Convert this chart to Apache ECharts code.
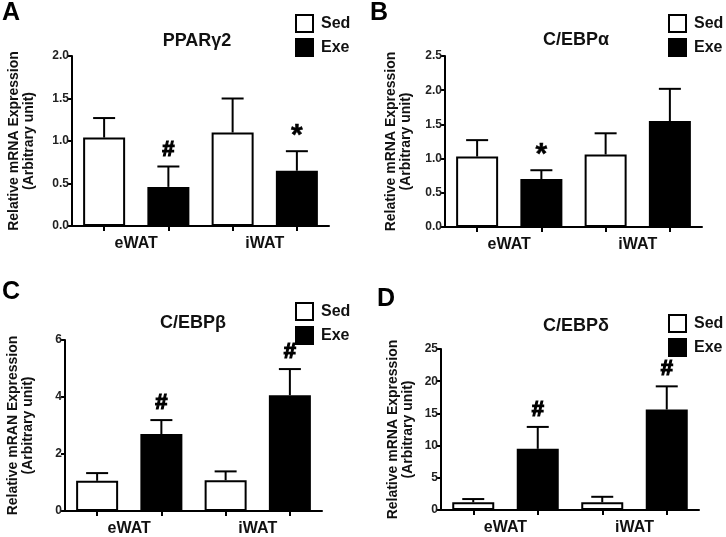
<!DOCTYPE html>
<html>
<head>
<meta charset="utf-8">
<script src="https://cdn.jsdelivr.net/npm/echarts@6/dist/echarts.min.js"></script>
<style>
html,body{margin:0;padding:0;background:#fff;}
#c{width:726px;height:537px;}
</style>
</head>
<body>
<div id="c"></div>
<script>
// ---- data ----
var categories = ['eWAT', 'iWAT'];
var seriesNames = ['Sed', 'Exe'];
var panelLetters = ['A', 'B', 'C', 'D'];
var panelTitles = ['PPARγ2', 'C/EBPα', 'C/EBPβ', 'C/EBPδ'];
var yNames = ['Relative mRNA Expression\n(Arbitrary unit)', 'Relative mRNA Expression\n(Arbitrary unit)',
              'Relative mRAN Expression\n(Arbitrary unit)', 'Relative mRNA Expression\n(Arbitrary unit)'];
var yMax = [2.0, 2.5, 6, 25];
var yInterval = [0.5, 0.5, 2, 5];
var yDecimals = [1, 1, 0, 0];

// means and SEM (eWAT, iWAT)
var sedA = [1.04, 1.10], sedSemA = [0.23, 0.40], exeA = [0.46, 0.65], exeSemA = [0.24, 0.23];
var sedB = [1.03, 1.06], sedSemB = [0.24, 0.31], exeB = [0.70, 1.55], exeSemB = [0.13, 0.47];
var sedC = [1.06, 1.08], sedSemC = [0.27, 0.31], exeC = [2.70, 4.06], exeSemC = [0.49, 0.92];
var sedD = [1.2, 1.2],   sedSemD = [0.5, 0.85],  exeD = [9.5, 15.6], exeSemD = [3.4, 3.6];
// significance markers above Exe bars
var markA = ['#', '*'], markB = ['*', ''], markC = ['#', '#'], markD = ['#', '#'];

var sedAll = [sedA, sedB, sedC, sedD], sedSemAll = [sedSemA, sedSemB, sedSemC, sedSemD];
var exeAll = [exeA, exeB, exeC, exeD], exeSemAll = [exeSemA, exeSemB, exeSemC, exeSemD];
var markAll = [markA, markB, markC, markD];

// ---- layout (styles / positions) ----
var FONT = '"Liberation Sans", Arial, Helvetica, sans-serif';
var grids = [
  {left: 72, top: 56, width: 257, height: 170},
  {left: 445, top: 56, width: 257, height: 171},
  {left: 65, top: 340, width: 257, height: 171},
  {left: 441, top: 349, width: 258, height: 161}
];
var nameGaps = [35, 31, 29, 25];
var titlePos = [[197, 32], [576, 31], [193, 314], [576, 317]];
var letterPos = [[2, 1], [370, 1], [2, 280], [377, 287]];
var legendPos = [[295, 14], [668, 14], [295, 302], [668, 314]];

var chart = echarts.init(document.getElementById('c'), null, {renderer: 'canvas'});

var option = {
  backgroundColor: '#fff',
  animation: false,
  textStyle: {fontFamily: FONT},
  title: [], legend: [], grid: [], xAxis: [], yAxis: [], series: []
};

for (var p = 0; p < 4; p++) {
  option.grid.push(grids[p]);
  option.title.push({
    text: panelTitles[p], left: titlePos[p][0], top: titlePos[p][1], textAlign: 'center', padding: 0,
    textStyle: {fontSize: 18, fontWeight: 'bold', color: '#111', fontFamily: FONT}
  });
  option.title.push({
    text: panelLetters[p], left: letterPos[p][0], top: letterPos[p][1], padding: 0,
    textStyle: {fontSize: 25, fontWeight: 'bold', color: '#000', fontFamily: FONT}
  });
  option.legend.push({
    data: seriesNames, orient: 'vertical', left: legendPos[p][0], top: legendPos[p][1], padding: 0,
    itemWidth: 17, itemHeight: 17, itemGap: 5, icon: 'rect', selectedMode: false,
    textStyle: {fontSize: 16, fontWeight: 'bold', color: '#111', fontFamily: FONT, padding: [0, 0, 0, 3]}
  });
  option.xAxis.push({
    gridIndex: p, type: 'value', min: 0.5, max: 4.5,
    splitLine: {show: false},
    axisLine: {show: true, onZero: false, lineStyle: {color: '#000', width: 2}},
    axisTick: {show: true, customValues: [1, 2, 3, 4], length: 5, lineStyle: {color: '#000', width: 2}},
    axisLabel: {
      show: true, customValues: [1.5, 3.5], margin: 10,
      fontSize: 16, fontWeight: 'bold', color: '#111', fontFamily: FONT,
      formatter: function (v) { return categories[Math.round((v - 1.5) / 2)]; }
    }
  });
  (function (dec) {
    option.yAxis.push({
      gridIndex: p, type: 'value', min: 0, max: yMax[p], interval: yInterval[p],
      name: yNames[p], nameLocation: 'middle', nameGap: nameGaps[p],
      nameTextStyle: {fontSize: 14, fontWeight: 'bold', color: '#111', lineHeight: 15, fontFamily: FONT},
      splitLine: {show: false},
      axisLine: {show: true, lineStyle: {color: '#000', width: 2}},
      axisTick: {show: true, length: 4, lineStyle: {color: '#000', width: 2}},
      axisLabel: {margin: 3, fontSize: 12, fontWeight: 'bold', color: '#222', fontFamily: FONT,
        formatter: function (v) { return v.toFixed(dec); }}
    });
  })(yDecimals[p]);

  var sed = sedAll[p], exe = exeAll[p];
  var sedData = [], exeData = [], errData = [];
  for (var g = 0; g < categories.length; g++) {
    sedData.push([1 + 2 * g, sed[g]]);
    exeData.push([2 + 2 * g, exe[g]]);
    errData.push([1 + 2 * g, sed[g], sed[g] + sedSemAll[p][g], -1]);
    errData.push([2 + 2 * g, exe[g], exe[g] + exeSemAll[p][g], g]);
  }
  option.series.push({
    name: 'Sed', type: 'bar', xAxisIndex: p, yAxisIndex: p, data: sedData,
    barWidth: 42, barGap: '-100%',
    itemStyle: {color: '#fff', borderColor: '#000', borderWidth: 2}
  });
  option.series.push({
    name: 'Exe', type: 'bar', xAxisIndex: p, yAxisIndex: p, data: exeData,
    barWidth: 42, barGap: '-100%',
    itemStyle: {color: '#000', borderColor: '#000', borderWidth: 2}
  });
  (function (marks) {
    option.series.push({
      type: 'custom', xAxisIndex: p, yAxisIndex: p, data: errData, z: 5,
      encode: {x: 0, y: [1, 2]},
      renderItem: function (params, api) {
        var x = api.value(0), lo = api.coord([x, api.value(1)]), hi = api.coord([x, api.value(2)]);
        var cap = 11;
        var children = [
          {type: 'line', shape: {x1: lo[0], y1: lo[1], x2: hi[0], y2: hi[1]}, style: {stroke: '#000', lineWidth: 2}},
          {type: 'line', shape: {x1: hi[0] - cap, y1: hi[1], x2: hi[0] + cap, y2: hi[1]}, style: {stroke: '#000', lineWidth: 2}}
        ];
        var mi = api.value(3);
        if (mi >= 0 && marks[mi]) {
          var m = marks[mi];
          var star = m === '*';
          children.push({type: 'text', x: hi[0], y: hi[1] - (star ? 0 : 6),
            style: {text: m, fill: '#000', stroke: '#000', lineWidth: star ? 0.5 : 1.2,
              fontSize: star ? 30 : 22, fontWeight: 'bold', fontFamily: FONT,
              align: 'center', verticalAlign: 'bottom'}});
        }
        return {type: 'group', children: children};
      }
    });
  })(markAll[p]);
}

chart.setOption(option);
</script>
</body>
</html>
